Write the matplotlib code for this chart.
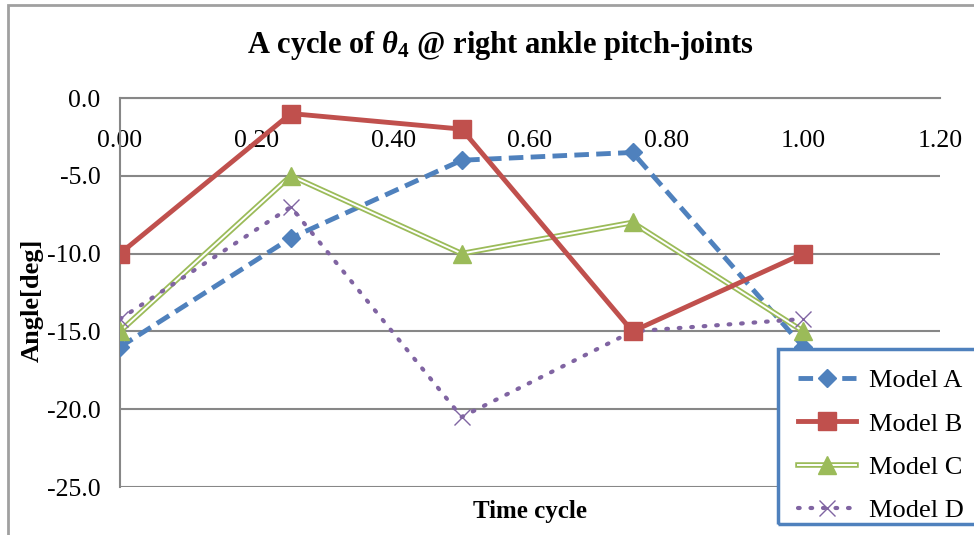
import matplotlib
matplotlib.use("Agg")
import matplotlib.pyplot as plt
import matplotlib.patheffects as pe
from matplotlib.lines import Line2D
from matplotlib.patches import Rectangle

plt.rcParams['font.family'] = ['Liberation Serif', 'DejaVu Serif']
plt.rcParams['mathtext.fontset'] = 'custom'
plt.rcParams['mathtext.rm'] = 'Liberation Serif:bold'
plt.rcParams['mathtext.it'] = 'Liberation Serif:italic:bold'
plt.rcParams['mathtext.bf'] = 'Liberation Serif:bold'

# Data
time_cycle = [0.0, 0.25, 0.5, 0.75, 1.0]
model_a = [-16.0, -9.0, -4.0, -3.5, -16.0]
model_b = [-10.0, -1.0, -2.0, -15.0, -10.0]
model_c = [-15.0, -5.0, -10.0, -8.0, -15.0]
model_d = [-14.2, -7.0, -20.5, -15.0, -14.2]
x_ticks = [0.0, 0.2, 0.4, 0.6, 0.8, 1.0, 1.2]
y_ticks = [0.0, -5.0, -10.0, -15.0, -20.0, -25.0]

blue = '#4F81BD'
red = '#C0504D'
green = '#9BBB59'
purple = '#8064A2'
grid_gray = '#878787'

fig = plt.figure(figsize=(9.74, 5.35), dpi=100)
ax = fig.add_axes([120 / 974, 1 - 487 / 535, 820 / 974, 389 / 535])

# chart area border
fig.patches.append(Rectangle((8 / 974, -0.1), 1.2, 1 - 5 / 535 + 0.1,
                             transform=fig.transFigure, fill=False,
                             edgecolor='#A0A0A0', linewidth=2, zorder=0))

ax.set_xlim(0, 1.2)
ax.set_ylim(-25, 0)
ax.set_xticks(x_ticks)
ax.set_xticklabels([f'{v:.2f}' for v in x_ticks])
ax.set_yticks(y_ticks)
ax.set_yticklabels([f'{v:.1f}' for v in y_ticks])
ax.tick_params(axis='both', length=0, labelsize=18.5)
ax.tick_params(axis='x', pad=23)
ax.tick_params(axis='y', pad=14)

ax.spines['bottom'].set_position(('data', 0))
ax.spines['top'].set_visible(False)
ax.spines['right'].set_visible(False)
for s in ('bottom', 'left'):
    ax.spines[s].set_color(grid_gray)
    ax.spines[s].set_linewidth(1.5)
ax.yaxis.grid(True, color=grid_gray, linewidth=1.5)
ax.set_axisbelow(True)

# Model A: dashed blue with diamonds
ax.plot(time_cycle, model_a, color=blue, linewidth=3.5, dashes=(3, 1.5),
        marker='D', markersize=9, zorder=3)
# Model B: solid red with squares
ax.plot(time_cycle, model_b, color=red, linewidth=3.5,
        marker='s', markersize=13, zorder=4)
# Model C: green double line with triangles
dbl = [pe.Stroke(linewidth=4, foreground=green),
       pe.Stroke(linewidth=1.4, foreground='white')]
ax.plot(time_cycle, model_c, color=green, linewidth=4, path_effects=dbl, zorder=3)
ax.plot(time_cycle, model_c, linestyle='none', color=green,
        marker='^', markersize=13, zorder=3)
# Model D: dotted purple with crosses
ax.plot(time_cycle, model_d, color=purple, linewidth=3, dashes=(0.4, 2.6),
        dash_capstyle='round', zorder=3)
ax.plot(time_cycle, model_d, linestyle='none', color=purple,
        marker='x', markersize=12, markeredgewidth=1, zorder=3)

fig.text(500 / 974, 1 - 46 / 535, r'A cycle of $\theta_4$ @ right ankle pitch-joints',
         ha='center', va='center', fontsize=22, fontweight='bold')
ax.set_xlabel('Time cycle', fontsize=18, fontweight='bold')
ax.xaxis.set_label_coords(0.5, -0.033)
ax.set_ylabel('Angle[deg]', fontsize=19, fontweight='bold')
ax.yaxis.set_label_coords(-0.093, 0.48)

# Legend handles
h_a = Line2D([], [], color=blue, linewidth=3.5, dashes=(3, 1.5), marker='D', markersize=9)
h_b = Line2D([], [], color=red, linewidth=3.5, marker='s', markersize=13)
h_c = (Line2D([], [], color=green, linewidth=4, path_effects=dbl),
       Line2D([], [], linestyle='none', color=green, marker='^', markersize=13))
h_d = (Line2D([], [], color=purple, linewidth=3, dashes=(0.4, 2.6), dash_capstyle='round'),
       Line2D([], [], linestyle='none', color=purple, marker='x', markersize=12,
              markeredgewidth=1))
leg = fig.legend([h_a, h_b, h_c, h_d], ['Model A', 'Model B', 'Model C', 'Model D'],
                 loc='upper left', bbox_to_anchor=(778 / 974, 0, 0.25, 1 - 349 / 535),
                 mode='expand', fontsize=19, frameon=True, fancybox=False,
                 handlelength=2.2, handletextpad=0.5, labelspacing=0.75,
                 borderpad=0.75, borderaxespad=0)
leg.get_frame().set_edgecolor('none')
leg.get_frame().set_facecolor('white')
leg.get_frame().set_alpha(1.0)

# legend border box
fig.patches.append(Rectangle((778 / 974, 1 - 524 / 535), 0.3, 175 / 535,
                             transform=fig.transFigure, fill=False,
                             edgecolor=blue, linewidth=2.5, zorder=6))

fig.savefig('out.png', dpi=100)
